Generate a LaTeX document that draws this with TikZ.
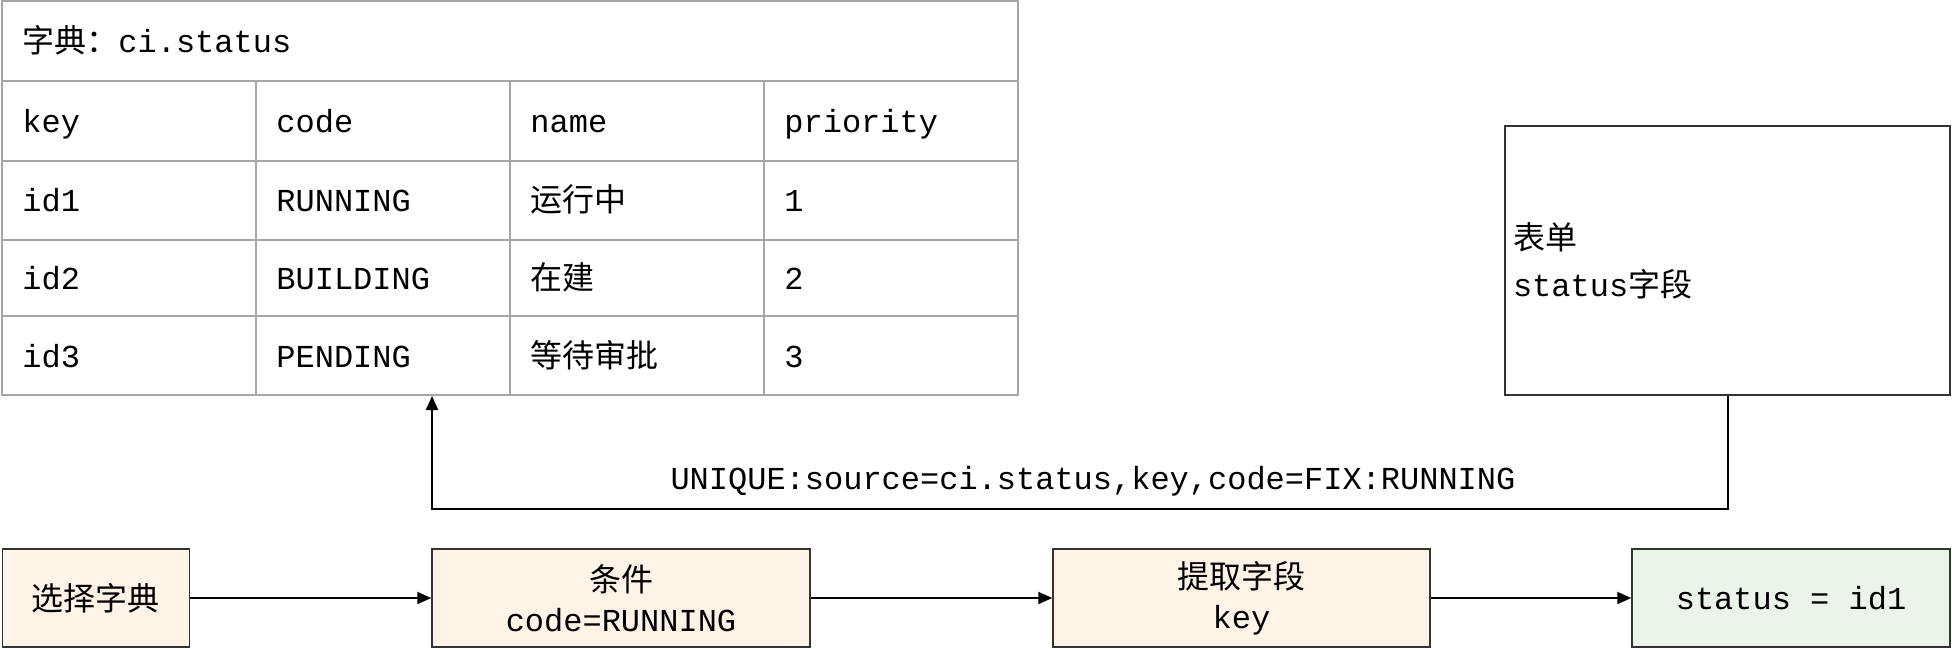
\documentclass[tikz,border=0pt]{standalone}
\usepackage{fontspec}
\setmainfont{Liberation Mono}
\newfontfamily\cjk{Noto Sans CJK SC}
\usetikzlibrary{arrows.meta}

\definecolor{gridgray}{HTML}{A6A6A6}
\definecolor{boxline}{HTML}{333333}
\definecolor{stepfill}{HTML}{FDF3E7}
\definecolor{donefill}{HTML}{EAF4E8}

\tikzset{
	cell/.style={anchor=west, inner sep=0pt, text height=12pt, text depth=1pt,
		font=\fontsize{16}{20}\selectfont},
	stepbox/.style={draw=boxline, line width=0.75pt, fill=stepfill, align=center,
		minimum height=49pt, inner sep=0pt, font=\fontsize{16}{20}\selectfont},
	flow/.style={line width=1pt, -{Triangle[length=7pt,width=6pt]}},
}

\begin{document}
\begin{tikzpicture}[x=0.5pt, y=-0.5pt]

	\useasboundingbox (0,0) rectangle (1952,648);

	% dictionary table
	\node[draw=gridgray, line width=1pt, minimum width=508pt, minimum height=197pt, inner sep=0pt] (dict) at (510,198) {};
	\draw[gridgray, line width=1pt] (2,81) -- (1018,81);
	\draw[gridgray, line width=1pt] (2,161) -- (1018,161);
	\draw[gridgray, line width=1pt] (2,240) -- (1018,240);
	\draw[gridgray, line width=1pt] (2,316) -- (1018,316);
	\draw[gridgray, line width=1pt] (256,81) -- (256,395);
	\draw[gridgray, line width=1pt] (510,81) -- (510,395);
	\draw[gridgray, line width=1pt] (764,81) -- (764,395);

	\node[cell] (title) at (22,41) {{\cjk 字典：}ci.status};

	\node[cell] (hkey) at (22,121) {key};
	\node[cell] (hcode) at (276,121) {code};
	\node[cell] (hname) at (530,121) {name};
	\node[cell] (hprio) at (784,121) {priority};

	\node[cell] (key1) at (22,200) {id1};
	\node[cell] (code1) at (276,200) {RUNNING};
	\node[cell] (name1) at (530,200) {\cjk 运行中};
	\node[cell] (prio1) at (784,200) {1};

	\node[cell] (key2) at (22,278) {id2};
	\node[cell] (code2) at (276,278) {BUILDING};
	\node[cell] (name2) at (530,278) {\cjk 在建};
	\node[cell] (prio2) at (784,278) {2};

	\node[cell] (key3) at (22,356) {id3};
	\node[cell] (code3) at (276,356) {PENDING};
	\node[cell] (name3) at (530,356) {\cjk 等待审批};
	\node[cell] (prio3) at (784,356) {3};

	% form field
	\node[draw=boxline, line width=0.75pt, minimum width=222.5pt, minimum height=134.5pt,
		text width=214.5pt, inner xsep=4pt, align=left, font=\fontsize{16}{20}\selectfont]
		(form) at (1727.5,260.5) {{\cjk 表单}\\[3.5pt]status{\cjk 字段}};

	\coordinate (bend) at (432,509);
	\draw[flow] (form.south) |- (bend) -- (bend |- dict.south);
	\node[cell, anchor=center] (rule) at (1093,478) {UNIQUE:source=ci.status,key,code=FIX:RUNNING};

	% steps
	\node[stepbox, minimum width=93.5pt] (pick) at (96,598) {\cjk 选择字典};
	\node[stepbox, minimum width=189pt] (cond) at (621,598) {{\cjk 条件}\\code=RUNNING};
	\node[stepbox, minimum width=188.5pt] (extract) at (1241.5,598) {{\cjk 提取字段}\\key};
	\node[stepbox, fill=donefill, minimum width=159pt] (result) at (1791,598) {status = id1};

	\draw[flow] (pick) -- (cond);
	\draw[flow] (cond) -- (extract);
	\draw[flow] (extract) -- (result);

\end{tikzpicture}
\end{document}
